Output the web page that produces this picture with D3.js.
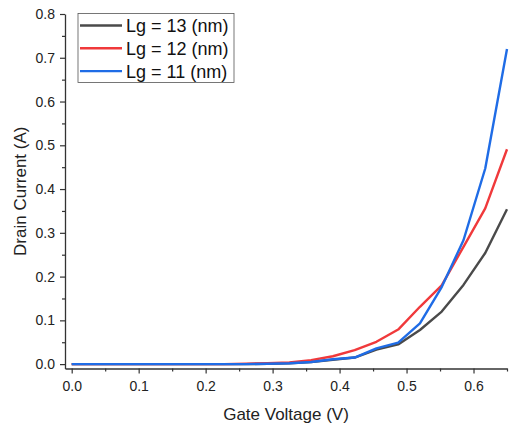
<!DOCTYPE html>
<html>
<head>
<meta charset="utf-8">
<script src="https://cdn.jsdelivr.net/npm/d3@7"></script>
<style>
  body { margin: 0; background: #fff; }
  svg { display: block; font-family: "Liberation Sans", Arial, sans-serif; }
</style>
</head>
<body>
<div id="chart"></div>
<script>
/*------------------- Data --------------------*/
const gateVoltage = [0, 0.0325, 0.065, 0.0975, 0.13, 0.1625, 0.195, 0.2275, 0.26, 0.2925,
    0.325, 0.3575, 0.39, 0.4225, 0.455, 0.4875, 0.52, 0.5525, 0.585, 0.6175, 0.65];

const lg13 = [0, 0, 0, 0, 0, 0, 0, 0, 0, 0.0005,
    0.002, 0.005, 0.010, 0.015, 0.033, 0.045, 0.078, 0.12, 0.181, 0.254, 0.354];
const lg12 = [0, 0, 0, 0, 0, 0, 0, 0, 0.001, 0.002,
    0.004, 0.009, 0.018, 0.032, 0.051, 0.079, 0.131, 0.18, 0.268, 0.356, 0.491];
const lg11 = [0, 0, 0, 0, 0, 0, 0, 0, 0, 0.001,
    0.002, 0.005, 0.011, 0.015, 0.036, 0.049, 0.093, 0.176, 0.283, 0.447, 0.72];

const seriesNames = ["Lg = 13 (nm)", "Lg = 12 (nm)", "Lg = 11 (nm)"];
const seriesColors = ["#4a4a4a", "#f0393b", "#1f6ce6"];
const seriesValues = [lg13, lg12, lg11];

const xMajor = [0, 0.1, 0.2, 0.3, 0.4, 0.5, 0.6];
const xMinor = [0.05, 0.15, 0.25, 0.35, 0.45, 0.55, 0.65];
const yMajor = [0, 0.1, 0.2, 0.3, 0.4, 0.5, 0.6, 0.7, 0.8];
const yMinor = [0.05, 0.15, 0.25, 0.35, 0.45, 0.55, 0.65, 0.75];

/*------------------- Layout --------------------*/
const width = 515, height = 428;
const plot = { left: 65, right: 507, top: 14, bottom: 368.5 };

const svg = d3.select("#chart").append("svg")
    .attr("width", width)
    .attr("height", height);

const x = d3.scaleLinear().domain([-0.01, 0.65]).range([plot.left, plot.right]);
const y = d3.scaleLinear().domain([-0.01, 0.8]).range([plot.bottom, plot.top]);

const axisColor = "#333";

/*------------------- Axes --------------------*/
const xAxisG = svg.append("g")
    .attr("transform", `translate(0,${plot.bottom})`)
    .call(d3.axisBottom(x).tickValues(xMajor).tickFormat(d3.format(".1f"))
        .tickSize(5).tickSizeOuter(0).tickPadding(8));
svg.append("g")
    .attr("transform", `translate(0,${plot.bottom})`)
    .call(d3.axisBottom(x).tickValues(xMinor).tickFormat("").tickSize(3).tickSizeOuter(0))
    .select(".domain").remove();

const yAxisG = svg.append("g")
    .attr("transform", `translate(${plot.left},0)`)
    .call(d3.axisLeft(y).tickValues(yMajor).tickFormat(d3.format(".1f"))
        .tickSize(5).tickSizeOuter(0).tickPadding(5));
svg.append("g")
    .attr("transform", `translate(${plot.left},0)`)
    .call(d3.axisLeft(y).tickValues(yMinor).tickFormat("").tickSize(3).tickSizeOuter(0))
    .select(".domain").remove();

svg.selectAll(".domain").attr("stroke", axisColor).attr("stroke-width", 1.3);
svg.selectAll(".tick line").attr("stroke", axisColor).attr("stroke-width", 1.2);
svg.selectAll(".tick text")
    .attr("fill", "#222")
    .style("font-size", "14px")
    .style("font-family", "'Liberation Sans', Arial, sans-serif");

// Axis titles
svg.append("text")
    .attr("x", (plot.left + plot.right) / 2)
    .attr("y", 420)
    .attr("text-anchor", "middle")
    .attr("fill", "#222")
    .style("font-size", "17px")
    .text("Gate Voltage (V)");

svg.append("text")
    .attr("transform", `translate(26,${(plot.top + plot.bottom) / 2}) rotate(-90)`)
    .attr("text-anchor", "middle")
    .attr("fill", "#222")
    .style("font-size", "17px")
    .text("Drain Current (A)");

/*------------------- Lines --------------------*/
const line = d3.line()
    .x((d, i) => x(gateVoltage[i]))
    .y(d => y(d));

svg.selectAll("path.series")
    .data(seriesValues)
    .join("path")
    .attr("class", "series")
    .attr("d", line)
    .attr("fill", "none")
    .attr("stroke", (d, i) => seriesColors[i])
    .attr("stroke-width", 2.4)
    .attr("stroke-linejoin", "round");

/*------------------- Legend --------------------*/
const legend = svg.append("g").attr("transform", "translate(78,13.5)");

legend.append("rect")
    .attr("width", 156)
    .attr("height", 69)
    .attr("fill", "#fff")
    .attr("stroke", "#555")
    .attr("stroke-width", 0.8);

const rows = legend.selectAll("g.row")
    .data(seriesNames)
    .join("g")
    .attr("class", "row")
    .attr("transform", (d, i) => `translate(0,${12 + i * 22.8})`);

rows.append("line")
    .attr("x1", 2).attr("x2", 44)
    .attr("stroke", (d, i) => seriesColors[i])
    .attr("stroke-width", 2.4);

rows.append("text")
    .attr("x", 48)
    .attr("y", 6.5)
    .attr("fill", "#111")
    .style("font-size", "18px")
    .text(d => d);
</script>
</body>
</html>
